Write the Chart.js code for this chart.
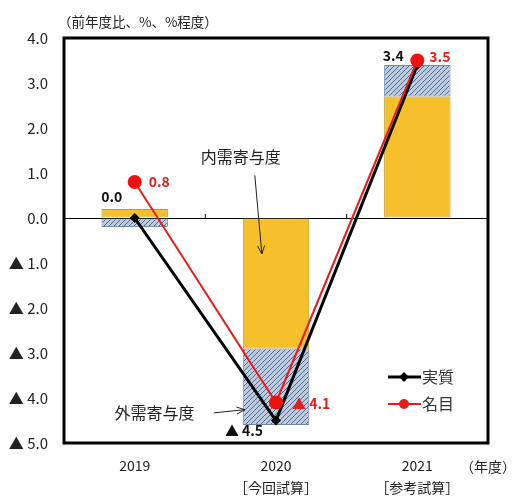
<!DOCTYPE html>
<html>
<head>
<meta charset="utf-8">
<script src="https://cdn.jsdelivr.net/npm/chart.js@4.4.1/dist/chart.umd.min.js"></script>
<style>
  html, body { margin: 0; padding: 0; background: #fff; }
  #chart { display: block; }
</style>
</head>
<body>
<canvas id="chart" width="513" height="500"></canvas>
<script>
const years = ['2019', '2020', '2021'];
const subLabels = ['', '［今回試算］', '［参考試算］'];
const domestic = [0.2, -2.9, 2.7];   // 内需寄与度
const external = [-0.2, -1.7, 0.7];  // 外需寄与度
const real = [0.0, -4.5, 3.4];       // 実質
const nominal = [0.8, -4.1, 3.5];    // 名目
const yTicks = [4, 3, 2, 1, 0, -1, -2, -3, -4, -5];

const FONT = "'Noto Sans CJK JP', 'Noto Sans', sans-serif";

const canvas = document.getElementById('chart');
const ctx = canvas.getContext('2d');

function makeHatch() {
    const c = document.createElement('canvas');
    c.width = 5; c.height = 5;
    const g = c.getContext('2d');
    g.fillStyle = '#bccbde';
    g.fillRect(0, 0, 5, 5);
    g.strokeStyle = '#4f6b94';
    g.lineWidth = 1;
    g.beginPath();
    g.moveTo(0, 5); g.lineTo(5, 0);
    g.moveTo(-2.5, 2.5); g.lineTo(2.5, -2.5);
    g.moveTo(2.5, 7.5); g.lineTo(7.5, 2.5);
    g.stroke();
    return ctx.createPattern(c, 'repeat');
}

function fmt(v) {
    return v < 0 ? '▲ ' + Math.abs(v).toFixed(1) : v.toFixed(1);
}

function arrow(c, x1, y1, x2, y2) {
    const a = Math.atan2(y2 - y1, x2 - x1);
    const h = 9;
    c.beginPath();
    c.moveTo(x1, y1);
    c.lineTo(x2, y2);
    c.moveTo(x2 - h * Math.cos(a - 0.4), y2 - h * Math.sin(a - 0.4));
    c.lineTo(x2, y2);
    c.lineTo(x2 - h * Math.cos(a + 0.4), y2 - h * Math.sin(a + 0.4));
    c.stroke();
}

const extras = {
    id: 'extras',
    afterDatasetsDraw(chart) {
        const c = chart.ctx;
        const a = chart.chartArea;
        const xs = chart.scales.x;
        const ys = chart.scales.y;
        c.save();

        // small category ticks on the zero line
        c.strokeStyle = '#000';
        c.lineWidth = 1;
        const y0 = ys.getPixelForValue(0);
        for (let i = 0; i < years.length - 1; i++) {
            const xm = (xs.getPixelForValue(i) + xs.getPixelForValue(i + 1)) / 2;
            c.beginPath();
            c.moveTo(xm, y0 - 4);
            c.lineTo(xm, y0);
            c.stroke();
        }

        // point labels
        c.font = 'bold 14px ' + FONT;
        c.textBaseline = 'middle';
        const realMeta = chart.getDatasetMeta(3);
        const nomMeta = chart.getDatasetMeta(2);
        const realOff = [[-23, -21], [-32, 10], [-24, -9]];
        const nomOff = [[14, 0], [16, 1], [12, -4]];
        realMeta.data.forEach((p, i) => {
            c.fillStyle = '#111';
            c.textAlign = 'center';
            c.fillText(fmt(real[i]), p.x + realOff[i][0], p.y + realOff[i][1]);
        });
        nomMeta.data.forEach((p, i) => {
            c.fillStyle = '#e0201e';
            c.textAlign = 'left';
            c.fillText(fmt(nominal[i]), p.x + nomOff[i][0], p.y + nomOff[i][1]);
        });

        // annotations
        c.fillStyle = '#222';
        c.strokeStyle = '#222';
        c.lineWidth = 1;
        c.font = '16px ' + FONT;
        c.textAlign = 'center';
        const cw = xs.getPixelForValue(1) - xs.getPixelForValue(0);
        const tx1 = xs.getPixelForValue(1) - 0.25 * cw;
        c.fillText('内需寄与度', tx1, ys.getPixelForValue(1.36));
        arrow(c, xs.getPixelForValue(1) - 0.15 * cw, ys.getPixelForValue(0.95),
                 xs.getPixelForValue(1) - 0.1 * cw, ys.getPixelForValue(-0.8));
        const tx2 = xs.getPixelForValue(1) - 0.86 * cw;
        c.fillText('外需寄与度', tx2, ys.getPixelForValue(-4.33));
        arrow(c, xs.getPixelForValue(1) - 0.44 * cw, ys.getPixelForValue(-4.33),
                 xs.getPixelForValue(1) - 0.22 * cw, ys.getPixelForValue(-4.26));

        // legend
        const lx = a.right - 100;
        const items = [
            { text: '実質', color: '#000', style: 'diamond', y: a.bottom - 66 },
            { text: '名目', color: '#e81c1c', style: 'circle', y: a.bottom - 39 }
        ];
        items.forEach(it => {
            c.strokeStyle = it.color;
            c.fillStyle = it.color;
            c.lineWidth = it.style === 'diamond' ? 3 : 2;
            c.beginPath();
            c.moveTo(lx, it.y);
            c.lineTo(lx + 33, it.y);
            c.stroke();
            const mx = lx + 16;
            c.beginPath();
            if (it.style === 'diamond') {
                c.moveTo(mx, it.y - 5); c.lineTo(mx + 5, it.y);
                c.lineTo(mx, it.y + 5); c.lineTo(mx - 5, it.y);
                c.closePath();
            } else {
                c.arc(mx, it.y, 5, 0, Math.PI * 2);
            }
            c.fill();
            c.fillStyle = '#333';
            c.font = '16px ' + FONT;
            c.textAlign = 'left';
            c.fillText(it.text, lx + 34, it.y);
        });

        // frame
        c.strokeStyle = '#000';
        c.lineWidth = 3;
        c.strokeRect(a.left, a.top, a.right - a.left, a.bottom - a.top);

        // axis captions
        c.fillStyle = '#222';
        c.font = '13.5px ' + FONT;
        c.textAlign = 'left';
        c.fillText('（前年度比、%、%程度）', a.left - 6, 22);
        c.font = '14px ' + FONT;
        c.fillText('（年度）', a.right - 28, 467);
        c.restore();
    }
};

const hatch = makeHatch();

new Chart(ctx, {
    data: {
        labels: years.map((y, i) => subLabels[i] ? [y, subLabels[i]] : y),
        datasets: [
            {
                type: 'bar',
                label: '内需寄与度',
                data: domestic,
                stack: 'demand',
                backgroundColor: '#f6c02c',
                borderColor: '#c59a24',
                borderWidth: 1,
                borderSkipped: false,
                barPercentage: 0.47,
                categoryPercentage: 1.0,
                order: 3
            },
            {
                type: 'bar',
                label: '外需寄与度',
                data: external,
                stack: 'demand',
                backgroundColor: hatch,
                borderColor: '#7088aa',
                borderWidth: 1,
                borderSkipped: false,
                barPercentage: 0.47,
                categoryPercentage: 1.0,
                order: 3
            },
            {
                type: 'line',
                label: '名目',
                data: nominal,
                stack: 'nominal',
                borderColor: '#e81c1c',
                backgroundColor: '#f01010',
                borderWidth: 2,
                pointStyle: 'circle',
                pointRadius: 7,
                pointBorderWidth: 0,
                fill: false,
                tension: 0,
                order: 1
            },
            {
                type: 'line',
                label: '実質',
                data: real,
                stack: 'real',
                borderColor: '#000',
                backgroundColor: '#000',
                borderWidth: 3,
                pointStyle: 'rectRot',
                pointRadius: 5,
                pointBorderWidth: 0,
                fill: false,
                tension: 0,
                order: 2
            }
        ]
    },
    options: {
        responsive: false,
        animation: false,
        layout: { padding: { left: 0, right: 25, top: 38, bottom: 0 } },
        plugins: {
            legend: { display: false },
            tooltip: { enabled: false }
        },
        scales: {
            x: {
                stacked: true,
                grid: { display: false, drawTicks: false },
                border: { display: false },
                ticks: {
                    padding: 12,
                    color: '#222',
                    font: { family: FONT, size: 14, lineHeight: '22px' }
                },
                afterFit(scale) { scale.height = 57; }
            },
            y: {
                stacked: true,
                min: -5,
                max: 4,
                afterBuildTicks(scale) { scale.ticks = yTicks.map(v => ({ value: v })); },
                grid: {
                    drawTicks: false,
                    color: c => (c.tick && c.tick.value === 0) ? '#000' : 'rgba(0,0,0,0)',
                    lineWidth: 1
                },
                border: { display: false },
                ticks: {
                    padding: 16,
                    color: '#222',
                    font: { family: FONT, size: 15 },
                    callback: v => v < 0 ? '▲ ' + Math.abs(v).toFixed(1) : v.toFixed(1)
                },
                afterFit(scale) { scale.width = 64; }
            }
        }
    },
    plugins: [extras]
});
</script>
</body>
</html>
